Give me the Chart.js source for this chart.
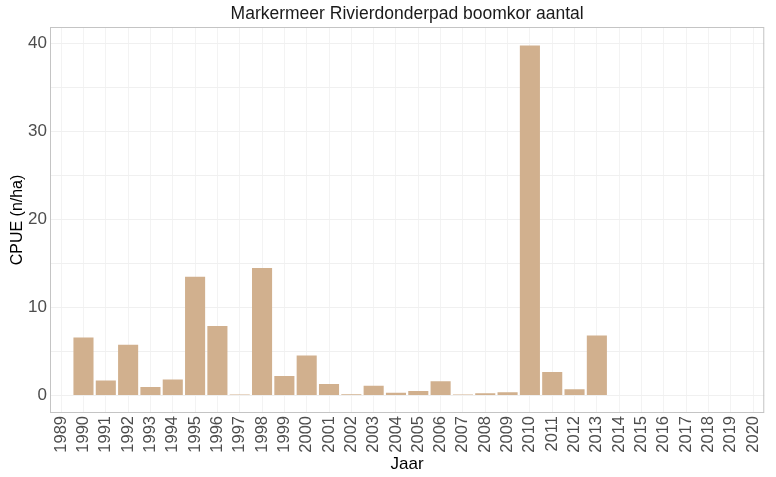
<!DOCTYPE html>
<html>
<head>
<meta charset="utf-8">
<script src="https://cdn.jsdelivr.net/npm/chart.js@4/dist/chart.umd.min.js"></script>
<style>
  html, body { margin: 0; padding: 0; background: #ffffff; }
  #wrap { width: 776px; height: 477px; }
</style>
</head>
<body>
<div id="wrap"><canvas id="chart" width="776" height="477"></canvas></div>
<script>
const years = [
  "1989", "1990", "1991", "1992", "1993", "1994", "1995", "1996",
  "1997", "1998", "1999", "2000", "2001", "2002", "2003", "2004",
  "2005", "2006", "2007", "2008", "2009", "2010", "2011", "2012",
  "2013", "2014", "2015", "2016", "2017", "2018", "2019", "2020",
];
const cpue = [
  0, 6.6, 1.7, 5.75, 0.95, 1.8, 13.5, 7.9,
  0.1, 14.5, 2.2, 4.55, 1.3, 0.12, 1.1, 0.3,
  0.5, 1.6, 0.1, 0.25, 0.35, 39.8, 2.65, 0.7,
  6.8, null, null, null, null, null, null, null,
];
const yGrid = [0, 5, 10, 15, 20, 25, 30, 35, 40];
const yLabels = [0, 10, 20, 30, 40];

const titleText = "Markermeer Rivierdonderpad boomkor aantal";
const fontFamily = "'Liberation Sans', Arial, sans-serif";

// panel border and title centred on the panel, like ggplot does
const panelBox = {
  id: "panelBox",
  afterDatasetsDraw(chart) {
    const { ctx, chartArea } = chart;
    ctx.save();
    ctx.strokeStyle = "#c4c4c4";
    ctx.lineWidth = 1;
    ctx.strokeRect(
      chartArea.left + 0.5,
      chartArea.top + 0.5,
      chartArea.right - chartArea.left - 1,
      chartArea.bottom - chartArea.top - 1
    );
    ctx.restore();
  },
  afterDraw(chart) {
    const { ctx, chartArea } = chart;
    ctx.save();
    ctx.fillStyle = "#1a1a1a";
    ctx.font = "17.5px " + fontFamily;
    ctx.textAlign = "center";
    ctx.textBaseline = "middle";
    ctx.fillText(titleText, (chartArea.left + chartArea.right) / 2, 14);
    ctx.restore();
  },
};

new Chart(document.getElementById("chart"), {
  type: "bar",
  data: {
    labels: years,
    datasets: [
      {
        label: "CPUE",
        data: cpue,
        backgroundColor: "#d1b08e",
        borderWidth: 0,
        barPercentage: 0.9,
        categoryPercentage: 1.0,
      },
    ],
  },
  options: {
    responsive: false,
    animation: false,
    layout: {
      padding: { top: 27, right: 6, bottom: 0, left: 0 },
    },
    scales: {
      x: {
        offset: true,
        grid: {
          offset: false,
          color: "#f3f3f3",
          drawTicks: false,
        },
        border: { display: false },
        ticks: {
          autoSkip: false,
          minRotation: 90,
          maxRotation: 90,
          padding: 3,
          color: "#4d4d4d",
          font: { family: fontFamily, size: 16.5 },
        },
        title: {
          display: true,
          text: "Jaar",
          color: "#000000",
          font: { family: fontFamily, size: 17 },
          padding: { top: 0, bottom: 2 },
        },
        afterFit(scale) {
          scale.height = 64;
        },
      },
      y: {
        min: -2.0,
        max: 41.9,
        grid: {
          color: "#f0f0f0",
          drawTicks: false,
        },
        border: { display: false },
        afterBuildTicks(scale) {
          scale.ticks = yGrid.map((v) => ({ value: v }));
        },
        ticks: {
          padding: 3,
          color: "#4d4d4d",
          font: { family: fontFamily, size: 17 },
          callback: (value) => (yLabels.includes(value) ? String(value) : ""),
        },
        title: {
          display: true,
          text: "CPUE (n/ha)",
          color: "#000000",
          font: { family: fontFamily, size: 16 },
          padding: { top: 8, bottom: 0 },
        },
        afterFit(scale) {
          scale.width = 50;
        },
      },
    },
    plugins: {
      legend: { display: false },
      title: { display: false },
      tooltip: { enabled: false },
    },
  },
  plugins: [panelBox],
});
</script>
</body>
</html>
